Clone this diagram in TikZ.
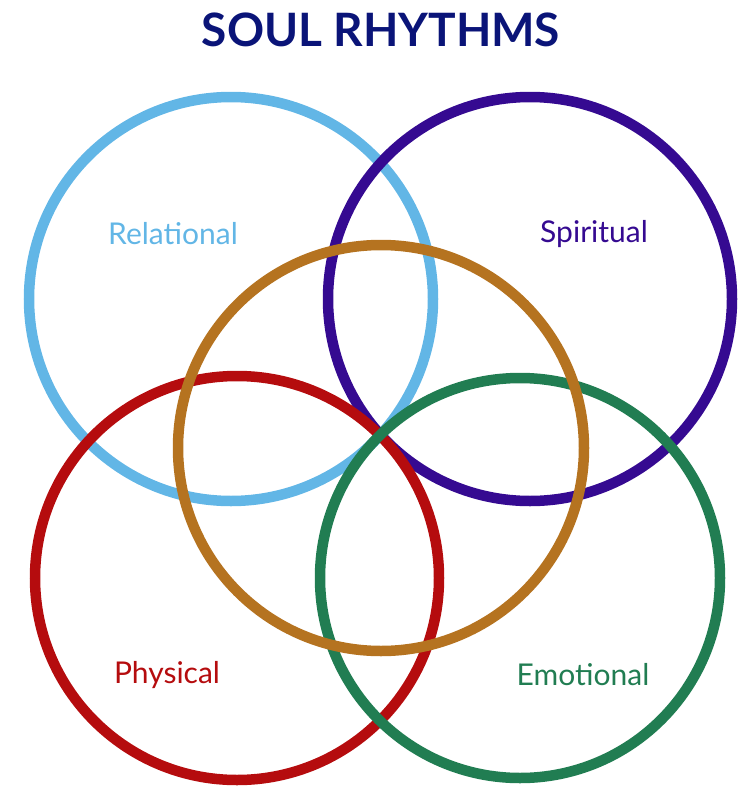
\documentclass[tikz,border=0pt]{standalone}
\usepackage{fontspec}
\setmainfont{Lato}
\usepackage{tikz}
\usepackage{xcolor}
\usetikzlibrary{positioning}
\definecolor{relblue}{HTML}{62B6E6}
\definecolor{spipurple}{HTML}{350A91}
\definecolor{midorange}{HTML}{B57320}
\definecolor{phyred}{HTML}{B50C0E}
\definecolor{emogreen}{HTML}{217D52}
\definecolor{titlenavy}{HTML}{0A1478}
\tikzstyle{ring} = [circle, line width=10.5pt, inner sep=0pt, minimum size=404pt]
\tikzstyle{rhythm} = [font=\fontsize{30}{33}\selectfont, anchor=center]

\begin{document}
\begin{tikzpicture}[x=1pt, y=-1pt]
        \useasboundingbox (0,0) rectangle (755,806);
        \node (title) [text=titlenavy, font=\fontsize{46}{50}\selectfont\bfseries] at (381,30) {SOUL RHYTHMS};

        \node (relational) [ring, draw=relblue] at (231,299) {};
        \node (spiritual) [ring, draw=spipurple] at (530,299) {};
        \node (physical) [ring, draw=phyred] at (237,578) {};
        \node (emotional) [ring, draw=emogreen, minimum size=400pt] at (520,578) {};
        \node (center) [ring, draw=midorange, minimum size=406pt] at (381,448) {};

        \node (rel_label) [rhythm, text=relblue] at (173,234) {Relational};
        \node (spi_label) [rhythm, text=spipurple] at (594,234) {Spiritual};
        \node (phy_label) [rhythm, text=phyred] at (167,675) {Physical};
        \node (emo_label) [rhythm, text=emogreen] at (583,675) {Emotional};
    \end{tikzpicture}
\end{document}
